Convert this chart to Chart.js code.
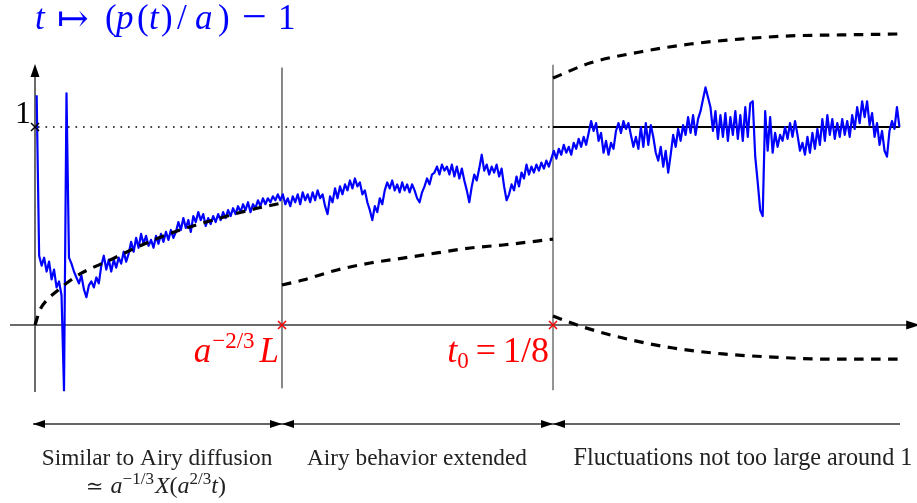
<!DOCTYPE html>
<html><head><meta charset="utf-8">
<script src="https://cdn.jsdelivr.net/npm/chart.js@4.4.0/dist/chart.umd.min.js"></script>
<style>html,body{margin:0;padding:0;background:#fff;}#wrap{width:917px;height:503px;position:relative;}</style>
</head><body><div id="wrap"><canvas id="c"></canvas></div>
<script>
// ---- data (t on the horizontal axis, value p(t)/a - 1 on the vertical axis) ----
const blueStart = 0.0004;
const blueStep = 0.0006;
const blueValues = [
1.16,0.35,0.30,0.34,0.27,0.32,0.23,0.28,0.19,0.22,
0.15,-0.33,1.17,0.34,0.31,0.27,0.24,0.21,0.25,0.18,
0.14,0.20,0.22,0.19,0.24,0.21,0.30,0.35,0.28,0.33,
0.27,0.33,0.29,0.34,0.31,0.37,0.32,0.36,0.42,0.37,
0.44,0.39,0.46,0.41,0.45,0.40,0.43,0.39,0.45,0.41,
0.46,0.42,0.47,0.43,0.48,0.44,0.47,0.52,0.48,0.54,
0.49,0.53,0.47,0.55,0.52,0.57,0.53,0.56,0.50,0.54,
0.51,0.55,0.52,0.56,0.53,0.57,0.54,0.58,0.55,0.59,
0.56,0.60,0.57,0.61,0.58,0.62,0.57,0.61,0.59,0.63,
0.60,0.64,0.61,0.64,0.62,0.65,0.63,0.66,0.63,0.66,
0.61,0.64,0.60,0.65,0.62,0.66,0.61,0.67,0.63,0.66,
0.62,0.67,0.63,0.68,0.64,0.66,0.60,0.56,0.65,0.62,
0.69,0.64,0.70,0.66,0.71,0.68,0.73,0.69,0.74,0.70,
0.72,0.66,0.68,0.62,0.58,0.53,0.60,0.57,0.64,0.61,
0.68,0.72,0.69,0.73,0.68,0.71,0.67,0.72,0.68,0.71,
0.67,0.71,0.68,0.64,0.62,0.67,0.70,0.74,0.71,0.76,
0.77,0.80,0.76,0.81,0.78,0.80,0.76,0.81,0.75,0.80,
0.74,0.79,0.73,0.68,0.62,0.70,0.76,0.73,0.79,0.86,
0.78,0.81,0.76,0.80,0.77,0.81,0.75,0.79,0.70,0.63,
0.66,0.71,0.68,0.75,0.70,0.77,0.74,0.81,0.76,0.80,
0.77,0.81,0.78,0.82,0.79,0.83,0.80,0.84,0.88,0.84,
0.89,0.86,0.91,0.87,0.90,0.86,0.92,0.89,0.94,0.90,
0.95,0.91,0.97,1.03,0.98,1.02,0.93,0.97,0.87,0.93,
0.86,0.92,0.89,0.98,1.02,0.97,1.03,0.99,1.02,0.96,
0.90,0.95,0.89,1.00,0.90,1.02,0.91,1.01,0.95,0.87,
0.83,0.90,0.80,0.88,0.77,0.86,0.96,0.90,0.99,0.93,
1.01,0.96,1.05,0.97,1.06,0.96,1.04,1.08,1.14,1.20,
1.15,1.10,0.98,1.08,0.94,1.06,0.95,1.07,0.93,1.05,
0.96,1.08,0.94,1.06,0.93,1.10,0.95,1.12,1.13,0.85,
0.72,0.58,0.55,1.08,0.88,1.05,0.87,0.97,0.90,0.96,
0.93,1.00,0.94,1.02,0.95,1.03,0.96,0.88,0.92,0.86,
0.95,0.87,0.97,0.89,0.99,0.91,1.04,0.93,1.06,0.96,
1.04,0.94,1.02,0.95,1.04,0.96,1.03,0.95,1.06,0.99,
1.10,1.02,1.13,1.05,1.13,1.01,1.07,0.95,1.02,0.91,
0.98,0.88,0.85,0.98,1.03,0.99,1.10,1.00
];
// dashed reference curves
const airyT = [0, 0.0012, 0.0031, 0.0056, 0.0080, 0.0113, 0.0176, 0.0258, 0.0343, 0.0430, 0.0519, 0.0596];
const airyV = [0, 0.076, 0.131, 0.177, 0.217, 0.263, 0.323, 0.404, 0.475, 0.530, 0.581, 0.616];
const midT = [0.0596, 0.0647, 0.0729, 0.0809, 0.0888, 0.0970, 0.1050, 0.1129, 0.1211, 0.1250];
const midV = [0.202, 0.227, 0.278, 0.313, 0.338, 0.364, 0.389, 0.404, 0.424, 0.434];
const upT = [0.1250, 0.1339, 0.1460, 0.1581, 0.1701, 0.1822, 0.1943, 0.2092];
const upV = [1.247, 1.323, 1.379, 1.419, 1.444, 1.460, 1.465, 1.470];
const lowT = [0.1250, 0.1315, 0.1419, 0.1540, 0.1660, 0.1781, 0.1902, 0.2087];
const lowV = [0.045, -0.005, -0.066, -0.116, -0.146, -0.162, -0.172, -0.172];
// marked times and level
const tMarkL = 0.0596;   // a^{-2/3} L
const tMark0 = 0.125;    // t0 = 1/8
const levelOne = 1;
const tEnd = 0.2087;

// ---- helpers ----
const pts = (ts, vs) => ts.map((t, i) => ({x: t, y: vs[i]}));
const bluePts = blueValues.map((v, i) => ({x: blueStart + i * blueStep, y: v}));
const FAM = '"Liberation Serif", "DejaVu Serif", serif';
const DJ = '"DejaVu Serif", serif';
function font(r, base) { return (r.i ? 'italic ' : '') + (r.s || base) + 'px ' + (r.f || FAM); }
function drawRuns(ctx, runs, x, y, align, color, base) {
  let w = 0;
  runs.forEach(r => {
    if (r.g !== undefined) { r.w = r.g; }
    else { ctx.font = font(r, base); r.w = ctx.measureText(r.t).width; }
    w += r.w;
  });
  const start = align === 'right' ? x - w : align === 'center' ? x - w / 2 : x;
  let cx = start;
  ctx.fillStyle = color; ctx.textBaseline = 'alphabetic'; ctx.textAlign = 'left';
  runs.forEach(r => {
    if (r.x !== undefined) cx = start + r.x;
    if (r.g === undefined) { ctx.font = font(r, base); ctx.fillText(r.t, cx, y + (r.dy || 0)); }
    cx += r.w;
  });
}
function arrowHead(ctx, tx, ty, dx, dy, len, half) {
  const bx = tx - dx * len, by = ty - dy * len;
  ctx.beginPath();
  ctx.moveTo(tx, ty);
  ctx.lineTo(bx - dy * half, by + dx * half);
  ctx.lineTo(bx + dy * half, by - dx * half);
  ctx.closePath(); ctx.fill();
}
function cross(ctx, cx, cy, h, color) {
  ctx.strokeStyle = color; ctx.lineWidth = 1.5; ctx.setLineDash([]);
  ctx.beginPath();
  ctx.moveTo(cx - h, cy - h); ctx.lineTo(cx + h, cy + h);
  ctx.moveTo(cx - h, cy + h); ctx.lineTo(cx + h, cy - h);
  ctx.stroke();
}
function line(ctx, x1, y1, x2, y2, color, w, dash) {
  ctx.strokeStyle = color; ctx.lineWidth = w; ctx.setLineDash(dash || []);
  ctx.beginPath(); ctx.moveTo(x1, y1); ctx.lineTo(x2, y2); ctx.stroke();
}

const decor = {
  id: 'decor',
  beforeDatasetsDraw(chart) {
    const {ctx, scales: {x, y}} = chart;
    const X = v => x.getPixelForValue(v), Y = v => y.getPixelForValue(v);
    ctx.save();
    const x0 = X(0), y0 = Y(0);
    line(ctx, x0, Y(-0.338), x0, Y(1.27), '#3a3a3a', 1.5);
    ctx.fillStyle = '#000'; arrowHead(ctx, x0, Y(1.318), 0, -1, 13, 4.5);
    line(ctx, 10, y0, X(0.2105), y0, '#3a3a3a', 1.5);
    arrowHead(ctx, X(0.2136), y0, 1, 0, 14, 4.5);
    line(ctx, X(tMarkL), Y(1.30), X(tMarkL), Y(-0.32), '#3a3a3a', 1.2);
    line(ctx, X(tMark0), Y(1.315), X(tMark0), Y(-0.33), '#7a7a7a', 1.6);
    line(ctx, x0 + 3, Y(levelOne), X(tMark0), Y(levelOne), '#000', 1.4, [1.6, 5.9]);
    line(ctx, X(tMark0), Y(levelOne), X(tEnd), Y(levelOne), '#000', 2);
    ctx.restore();
  },
  afterDraw(chart) {
    const {ctx, scales: {x, y}} = chart;
    const X = v => x.getPixelForValue(v), Y = v => y.getPixelForValue(v);
    ctx.save();
    cross(ctx, X(0), Y(levelOne), 4, '#000');
    cross(ctx, X(tMarkL), Y(0), 4, '#ff0000');
    cross(ctx, X(tMark0), Y(0), 4, '#ff0000');
    // title (glyph offsets follow the original typesetting)
    drawRuns(ctx, [
      {t:'t',i:1,x:0},
      {t:'\u21A6',s:38,f:DJ,x:22,dy:2},
      {t:'(',x:70},
      {t:'p',i:1,x:81},
      {t:'(',x:102},
      {t:'t',i:1,x:114},
      {t:')',x:126},
      {t:'/',x:142},
      {t:'a',i:1,x:160},
      {t:')',x:183},
      {t:'\u2212',s:44,x:207,dy:2},
      {t:'1',x:243}
    ], 35, 29, 'left', '#0000ff', 35);
    drawRuns(ctx, [{t:'1'}], 31, 123, 'right', '#000', 32);
    drawRuns(ctx, [{t:'a',i:1},{g:1},{t:'\u22122/3',s:23,dy:-14},{g:5},{t:'L',i:1}], X(tMarkL) - 3, 362, 'right', '#ff0000', 35);
    drawRuns(ctx, [{t:'t',i:1},{t:'0',s:23,dy:6},{g:7},{t:'='},{g:7},{t:'1/8'}], X(tMark0) - 4, 362, 'right', '#ff0000', 36);
    // region arrows
    const ya = 424;
    ctx.fillStyle = '#000';
    line(ctx, X(0) - 2, ya, X(tMarkL), ya, '#333', 1.5);
    line(ctx, X(tMarkL), ya, X(tMark0), ya, '#333', 1.5);
    line(ctx, X(tMark0), ya, 900, ya, '#333', 1.5);
    arrowHead(ctx, X(0) - 2, ya, -1, 0, 12, 4);
    arrowHead(ctx, X(tMarkL), ya, 1, 0, 12, 4);
    arrowHead(ctx, X(tMarkL), ya, -1, 0, 12, 4);
    arrowHead(ctx, X(tMark0), ya, 1, 0, 12, 4);
    arrowHead(ctx, X(tMark0), ya, -1, 0, 12, 4);
    // region texts
    drawRuns(ctx, [{t:'Similar to Airy diffusion'}], 157, 465, 'center', '#222', 23.3);
    drawRuns(ctx, [{t:'\u2243',f:DJ,s:21},{g:7},{t:'a',i:1},{t:'\u22121/3',s:17,dy:-9},{g:1},{t:'X',i:1},{t:'('},{t:'a',i:1},{t:'2/3',s:17,dy:-9},{t:'t',i:1},{t:')'}],
      156, 493, 'center', '#222', 24);
    drawRuns(ctx, [{t:'Airy behavior extended'}], 417, 465, 'center', '#222', 23.3);
    drawRuns(ctx, [{t:'Fluctuations not too large around 1'}], 743, 465, 'center', '#222', 24.2);
    ctx.restore();
  }
};

const dashed = (data) => ({
  data, borderColor: '#000', borderWidth: 3.2, borderDash: [9.5, 7.5], pointRadius: 0,
  cubicInterpolationMode: 'monotone', fill: false, clip: false
});

new Chart(document.getElementById('c'), {
  type: 'line',
  data: {
    datasets: [
      dashed(pts(airyT, airyV)),
      dashed(pts(midT, midV)),
      dashed(pts(upT, upV)),
      dashed(pts(lowT, lowV)),
      { data: bluePts, borderColor: '#0000ff', borderWidth: 2.2, pointRadius: 0, tension: 0,
        borderJoinStyle: 'round', fill: false, clip: false }
    ]
  },
  options: {
    responsive: true, maintainAspectRatio: false, animation: false,
    layout: { padding: 0 },
    plugins: { legend: { display: false }, tooltip: { enabled: false }, title: { display: false } },
    events: [],
    scales: {
      x: { type: 'linear', display: false, min: -35 / 4144, max: 882 / 4144 },
      y: { type: 'linear', display: false, min: -178 / 198, max: 325 / 198 }
    }
  },
  plugins: [decor]
});
</script></body></html>
